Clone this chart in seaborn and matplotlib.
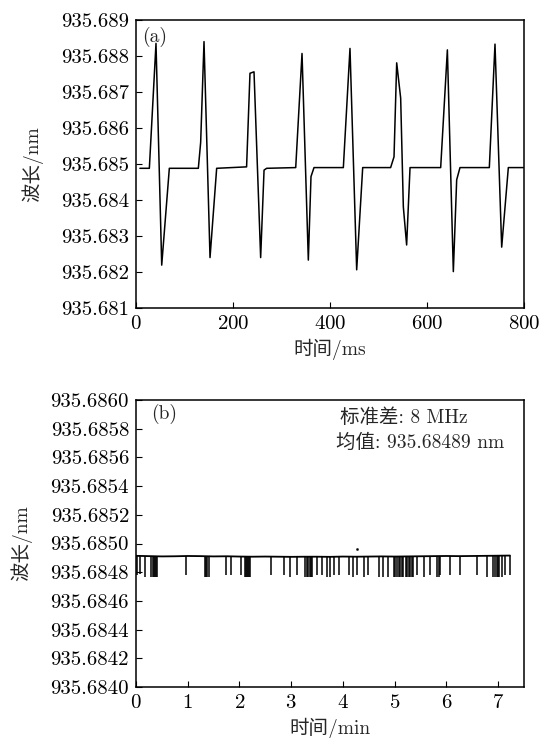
import numpy as np
import pandas as pd
import matplotlib
matplotlib.use("Agg")
import matplotlib.pyplot as plt
from matplotlib.ticker import FormatStrFormatter
import seaborn as sns

# ======================
# 数据 (a): 一个快速扫描周期内的波长
# ======================
t_ms = [8, 27.5, 41.2, 53, 68.7, 128.5, 133.3, 140.2, 152.6, 166.3,
        228, 235, 243.3, 257, 264, 269.4, 329.3, 342.3, 355.3, 360.8,
        367, 427.5, 441.2, 455, 467.4, 525, 532, 537.5, 545.7, 551.2,
        558, 565, 628.2, 642, 654.3, 661.2, 668, 728.5, 740.2, 754,
        767.7, 798.6]
wl_a = [935.68488, 935.68488, 935.68835, 935.68219, 935.68488, 935.68488, 935.68560, 935.68840, 935.68240, 935.68488,
        935.68492, 935.68752, 935.68756, 935.68240, 935.68483, 935.68488, 935.68490, 935.68807, 935.68233, 935.68465,
        935.68490, 935.68490, 935.68821, 935.68206, 935.68490, 935.68490, 935.68520, 935.68781, 935.68683, 935.68381,
        935.68275, 935.68490, 935.68490, 935.68817, 935.68201, 935.68456, 935.68490, 935.68490, 935.68833, 935.68269,
        935.68490, 935.68490]
yticks_a = [935.681, 935.682, 935.683, 935.684, 935.685, 935.686, 935.687, 935.688, 935.689]
xticks_a = [0, 200, 400, 600, 800]

# ======================
# 数据 (b): 长时间锁定后的波长
# ======================
t_min = [0, 0.25, 0.5, 0.75, 1, 1.25, 1.5, 1.75, 2, 2.25,
         2.5, 2.75, 3, 3.25, 3.5, 3.75, 4, 4.25, 4.5, 4.75,
         5, 5.25, 5.5, 5.75, 6, 6.25, 6.5, 6.75, 7, 7.23]
wl_b = [935.684914, 935.684912, 935.684910, 935.684911, 935.684913, 935.684912, 935.684910, 935.684911, 935.684909, 935.684908,
        935.684909, 935.684908, 935.684907, 935.684908, 935.684908, 935.684907, 935.684909, 935.684908, 935.684909, 935.684910,
        935.684909, 935.684910, 935.684911, 935.684912, 935.684913, 935.684912, 935.684913, 935.684914, 935.684915, 935.684916]
# 跳变点 (时间 / 跳到的波长)
drop_t = [0.02, 0.07, 0.18, 0.29, 0.33, 0.35, 0.37, 0.39, 0.41, 0.96,
          1.34, 1.36, 1.38, 1.41, 1.73, 1.84, 2.02, 2.11, 2.13, 2.15,
          2.17, 2.19, 2.21, 2.60, 2.87, 2.97, 3.11, 3.27, 3.30, 3.32,
          3.36, 3.38, 3.40, 3.50, 3.59, 3.69, 3.75, 3.83, 3.92, 4.11,
          4.20, 4.28, 4.40, 4.49, 4.69, 4.78, 4.88, 4.98, 5.01, 5.04,
          5.08, 5.11, 5.14, 5.17, 5.21, 5.24, 5.27, 5.30, 5.33, 5.36,
          5.43, 5.56, 5.69, 5.81, 5.85, 5.88, 6.07, 6.26, 6.59, 6.78,
          6.91, 6.94, 6.97, 7.00, 7.02, 7.07, 7.13, 7.23]
drop_wl = [935.68478, 935.68479, 935.68477, 935.68477, 935.68477, 935.68477, 935.68477, 935.68477, 935.68477, 935.68478,
           935.68477, 935.68477, 935.68477, 935.68477, 935.68478, 935.68478, 935.68478, 935.68477, 935.68477, 935.68477,
           935.68477, 935.68477, 935.68477, 935.68478, 935.68478, 935.68477, 935.68478, 935.68477, 935.68477, 935.68477,
           935.68477, 935.68477, 935.68477, 935.68478, 935.68478, 935.68477, 935.68477, 935.68478, 935.68478, 935.68478,
           935.68477, 935.68478, 935.68477, 935.68478, 935.68477, 935.68477, 935.68477, 935.68477, 935.68477, 935.68477,
           935.68477, 935.68477, 935.68477, 935.68477, 935.68477, 935.68477, 935.68477, 935.68477, 935.68477, 935.68477,
           935.68478, 935.68477, 935.68478, 935.68477, 935.68477, 935.68478, 935.68478, 935.68478, 935.68478, 935.68477,
           935.68477, 935.68477, 935.68477, 935.68477, 935.68477, 935.68477, 935.68478, 935.68478]
dot_t = [4.27]
dot_wl = [935.68496]
yticks_b = [935.6840, 935.6842, 935.6844, 935.6846, 935.6848, 935.6850,
            935.6852, 935.6854, 935.6856, 935.6858, 935.6860]
xticks_b = [0, 1, 2, 3, 4, 5, 6, 7]

# ======================
# 样式
# ======================
sns.set_style("ticks")
plt.rcParams["font.family"] = ["cmr10", "Noto Sans CJK SC"]
plt.rcParams["axes.formatter.use_mathtext"] = True
plt.rcParams["font.size"] = 14
plt.rcParams["axes.linewidth"] = 1.1
plt.rcParams["xtick.direction"] = "in"
plt.rcParams["ytick.direction"] = "in"
plt.rcParams["xtick.major.size"] = 4
plt.rcParams["ytick.major.size"] = 4
plt.rcParams["xtick.color"] = "black"
plt.rcParams["ytick.color"] = "black"
plt.rcParams["axes.edgecolor"] = "black"

fig = plt.figure(figsize=(5.48, 7.38), dpi=100)
ax1 = fig.add_axes([0.2482, 0.5827, 0.7080, 0.3902])
ax2 = fig.add_axes([0.2482, 0.0691, 0.7080, 0.3889])

# (a)
df_a = pd.DataFrame({"t": t_ms, "wl": wl_a})
sns.lineplot(data=df_a, x="t", y="wl", ax=ax1, color="black", lw=1.1,
             estimator=None, sort=False)
ax1.set_xlim(0, 800)
ax1.set_ylim(935.681, 935.689)
ax1.set_xticks(xticks_a)
ax1.set_yticks(yticks_a)
ax1.yaxis.set_major_formatter(FormatStrFormatter("%.3f"))
ax1.set_xlabel("时间/ms", labelpad=4)
ax1.set_ylabel("波长/nm", labelpad=13)
ax1.text(0.015, 0.975, "(a)", transform=ax1.transAxes, ha="left", va="top")

# (b)
df_b = pd.DataFrame({"t": t_min, "wl": wl_b})
sns.lineplot(data=df_b, x="t", y="wl", ax=ax2, color="black", lw=1.3,
             estimator=None, sort=False)
base_at_drop = [wl_b[np.searchsorted(t_min, t, side="right") - 1] for t in drop_t]
ax2.vlines(drop_t, drop_wl, base_at_drop, color="black", lw=1.1)
sns.scatterplot(x=dot_t, y=dot_wl, ax=ax2, color="black", s=3, edgecolor=None)
ax2.set_xlim(0, 7.5)
ax2.set_ylim(935.6840, 935.6860)
ax2.set_xticks(xticks_b)
ax2.set_yticks(yticks_b)
ax2.yaxis.set_major_formatter(FormatStrFormatter("%.4f"))
ax2.set_xlabel("时间/min", labelpad=4)
ax2.set_ylabel("波长/nm", labelpad=13)
ax2.text(0.04, 0.985, "(b)", transform=ax2.transAxes, ha="left", va="top")
ax2.text(0.525, 0.94, "标准差: 8 MHz", transform=ax2.transAxes, ha="left",
         va="center", fontsize=14)
ax2.text(0.515, 0.85, "均值: 935.68489 nm", transform=ax2.transAxes, ha="left",
         va="center", fontsize=14)

for ax in (ax1, ax2):
    ax.tick_params(top=False, right=False, pad=5, labelsize=15)

fig.savefig("out.png", dpi=100)
